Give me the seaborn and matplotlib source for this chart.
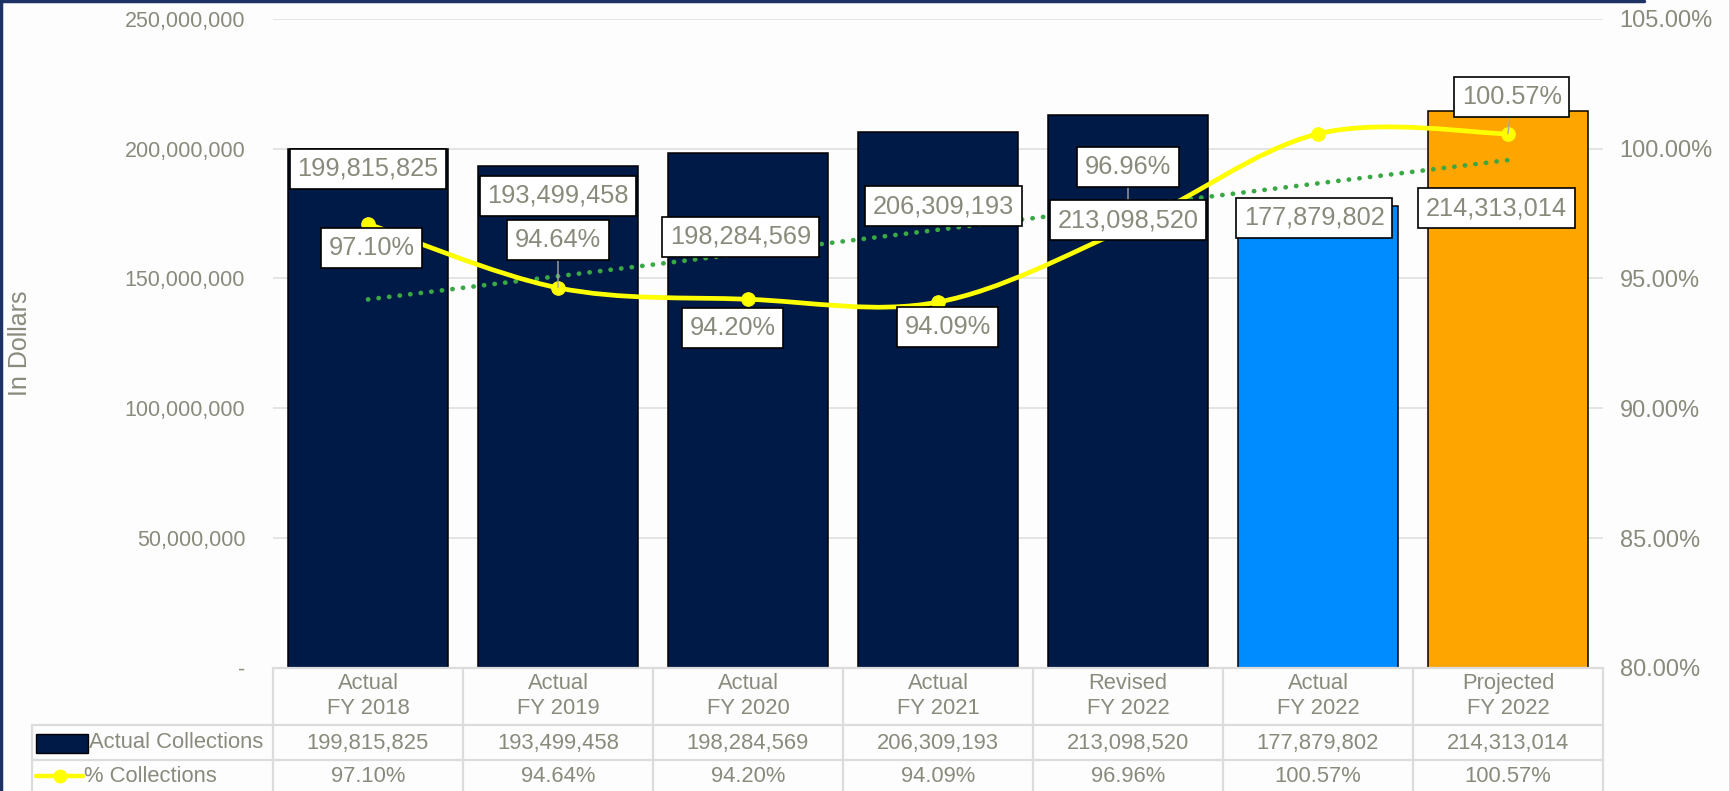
import numpy as np
import matplotlib
matplotlib.use("Agg")
import matplotlib.pyplot as plt
import matplotlib.transforms as mtransforms
from matplotlib.path import Path
from matplotlib.patches import PathPatch, Rectangle
from matplotlib.lines import Line2D
import seaborn as sns

# ---------------- data ----------------
categories = ["Actual\nFY 2018", "Actual\nFY 2019", "Actual\nFY 2020", "Actual\nFY 2021",
              "Revised\nFY 2022", "Actual\nFY 2022", "Projected\nFY 2022"]
collections = [199815825, 193499458, 198284569, 206309193, 213098520, 177879802, 214313014]
pct_collections = [97.10, 94.64, 94.20, 94.09, 96.96, 100.57, 100.57]
series_names = ["Actual Collections", "% Collections"]
left_ticks = [0, 50000000, 100000000, 150000000, 200000000, 250000000]
right_ticks = [80, 85, 90, 95, 100, 105]
y_label = "In Dollars"

# ---------------- style / layout ----------------
bar_colors = ["#001a47", "#001a47", "#001a47", "#001a47", "#001a47", "#008cff", "#ffa500"]
line_color = "#ffff00"
trend_color = "#3aa845"
text_gray = "#8a8a7c"
grid_gray = "#e2e2e2"
bg = "#fdfdfe"
# label positions: (x offset in categories, y in axis units)
bar_label_pos = [(0.0, 192.2e6), (0.0, 181.8e6), (-0.04, 166.0e6), (0.03, 177.9e6),
                 (0.0, 172.5e6), (-0.02, 173.3e6), (-0.06, 177.1e6)]
pct_label_pos = [(0.02, 96.17), (0.0, 96.48), (-0.08, 93.09), (0.05, 93.13),
                 (0.0, 99.29), None, (0.02, 101.99)]
pct_leader = [False, True, False, False, True, False, True]

sns.set_style("white")
plt.rcParams["font.family"] = ["Liberation Sans", "DejaVu Sans"]

W, H = 1731, 791
fig = plt.figure(figsize=(W / 100, H / 100), dpi=100, facecolor=bg)
ax_l, ax_r, ax_t, ax_b = 273, 1603, 18.8, 668
ax = fig.add_axes([ax_l / W, 1 - ax_b / H, (ax_r - ax_l) / W, (ax_b - ax_t) / H])
ax.set_facecolor(bg)

sns.barplot(x=categories, y=collections, hue=categories, palette=bar_colors, legend=False,
            ax=ax, width=0.84, edgecolor="black", linewidth=1.1, saturation=1, zorder=2)
ax.set_ylim(0, 250000000)
ax.set_xlim(-0.5, len(categories) - 0.5)
ax.set_yticks(left_ticks)
ax.set_yticklabels(["-" if v == 0 else f"{v:,}" for v in left_ticks])
ax.tick_params(axis="y", length=0, pad=20, labelsize=15.5, labelcolor=text_gray)
ax.tick_params(axis="x", length=0, labelbottom=False)
ax.set_xlabel("")
ax.set_ylabel("")
ax.yaxis.grid(True, color=grid_gray, lw=1.3)
ax.set_axisbelow(True)
for s in ax.spines.values():
    s.set_visible(False)

ax2 = ax.twinx()
ax2.set_ylim(80, 105)
xs = np.arange(len(categories))

# linear trend
sns.regplot(x=xs, y=np.array(pct_collections), ax=ax2, scatter=False, ci=None, truncate=True,
            line_kws=dict(color=trend_color, lw=3.4, linestyle=(0, (0.05, 2.2)),
                          dash_capstyle="round", zorder=3))


def smooth_path(px, py):
    verts = [(px[0], py[0])]
    codes = [Path.MOVETO]
    n = len(px)
    for i in range(n - 1):
        i0, i3 = max(i - 1, 0), min(i + 2, n - 1)
        c1 = (px[i] + (px[i + 1] - px[i0]) / 6, py[i] + (py[i + 1] - py[i0]) / 6)
        c2 = (px[i + 1] - (px[i3] - px[i]) / 6, py[i + 1] - (py[i3] - py[i]) / 6)
        verts += [c1, c2, (px[i + 1], py[i + 1])]
        codes += [Path.CURVE4] * 3
    return Path(verts, codes)


ax2.add_patch(PathPatch(smooth_path(xs, pct_collections), fill=False, edgecolor=line_color,
                        lw=3.4, capstyle="round", zorder=4))
sns.scatterplot(x=xs, y=pct_collections, ax=ax2, color=line_color, edgecolor=line_color,
                s=95, zorder=4, legend=False)
ax2.set_ylim(80, 105)
ax2.set_xlim(-0.5, len(categories) - 0.5)
ax2.set_yticks(right_ticks)
ax2.set_yticklabels([f"{v:.2f}%" for v in right_ticks])
ax2.tick_params(axis="y", length=0, pad=12, labelsize=17, labelcolor=text_gray)
ax2.set_ylabel("")
ax2.set_xlabel("")
for s in ax2.spines.values():
    s.set_visible(False)

box = dict(boxstyle="square,pad=0.3", fc="white", ec="black", lw=1.2)
for i, v in enumerate(collections):
    dx, yy = bar_label_pos[i]
    ax2.annotate(f"{v:,}", xy=(i + dx, yy), xycoords=ax.transData, ha="center", va="center",
                 fontsize=18.3, color=text_gray, bbox=box, zorder=7, annotation_clip=False)
for i, v in enumerate(pct_collections):
    if pct_label_pos[i] is None:
        continue
    dx, yy = pct_label_pos[i]
    kw = {}
    if pct_leader[i]:
        kw["arrowprops"] = dict(arrowstyle="-", color="#a8a8a8", lw=1.0, shrinkA=0, shrinkB=0)
    ax2.annotate(f"{v:.2f}%", xy=(i, v), xytext=(i + dx, yy), textcoords="data",
                 ha="center", va="center", fontsize=18.3, color=text_gray, bbox=box,
                 zorder=6, annotation_clip=False, **kw)

# ---------------- data table ----------------
trans = mtransforms.blended_transform_factory(ax.transData, fig.transFigure)
y_head_top = 1 - 668 / H
y_r1_top = 1 - 725 / H
y_r2_top = 1 - 760 / H
x_leg = (32 - ax_l) / ((ax_r - ax_l) / len(categories)) - 0.5
tbl_line = dict(color="#dcdcdc", lw=1.6, transform=trans, clip_on=False)
n = len(categories)
fig.add_artist(Line2D([-0.5, n - 0.5], [y_head_top, y_head_top], **tbl_line))
for yy in (y_r1_top, y_r2_top):
    fig.add_artist(Line2D([x_leg, n - 0.5], [yy, yy], **tbl_line))
for k in range(n + 1):
    fig.add_artist(Line2D([k - 0.5, k - 0.5], [0, y_head_top], **tbl_line))
fig.add_artist(Line2D([x_leg, x_leg], [0, y_r1_top], **tbl_line))

y_head_c = 1 - 696 / H
y_r1_c = 1 - 743 / H
y_r2_c = 1 - 776 / H
for i in range(n):
    fig.text(i, y_head_c, categories[i], transform=trans, ha="center", va="center",
             fontsize=15.8, color=text_gray, linespacing=1.2)
    fig.text(i, y_r1_c, f"{collections[i]:,}", transform=trans, ha="center", va="center",
             fontsize=15.8, color=text_gray)
    fig.text(i, y_r2_c, f"{pct_collections[i]:.2f}%", transform=trans, ha="center", va="center",
             fontsize=15.8, color=text_gray)

unit = (ax_r - ax_l) / n
sw_x0 = (36 - ax_l) / unit - 0.5
sw_x1 = (88 - ax_l) / unit - 0.5
fig.add_artist(Rectangle((sw_x0, 1 - 753 / H), sw_x1 - sw_x0, 19 / H, transform=trans,
                         fc=bar_colors[0], ec="black", lw=1.0, clip_on=False))
fig.text(sw_x1 + 0.003, y_r1_c, series_names[0], transform=trans, ha="left", va="center",
         fontsize=15.8, color=text_gray)
ln_x1 = (83 - ax_l) / unit - 0.5
fig.add_artist(Line2D([sw_x0, (sw_x0 + ln_x1) / 2, ln_x1], [y_r2_c] * 3, transform=trans,
                      color=line_color, lw=3.2, marker="o", markevery=[1], markersize=9,
                      clip_on=False))
fig.text(ln_x1 + 0.003, y_r2_c, series_names[1], transform=trans, ha="left", va="center",
         fontsize=15.8, color=text_gray)

fig.text(20 / W, 1 - 343 / H, y_label, rotation=90, ha="center", va="center",
         fontsize=18, color=text_gray)

# figure border
fig.add_artist(Line2D([0.0008, 0.0008], [0, 1], color="#1f3266", lw=2.5, transform=fig.transFigure))
fig.add_artist(Line2D([0, 0.95], [0.9985, 0.9985], color="#1f3266", lw=2.5, transform=fig.transFigure))
fig.add_artist(Line2D([0.9992, 0.9992], [0, 1], color="#d4d4e4", lw=2, transform=fig.transFigure))

fig.savefig("out.png", dpi=100, facecolor=bg)
